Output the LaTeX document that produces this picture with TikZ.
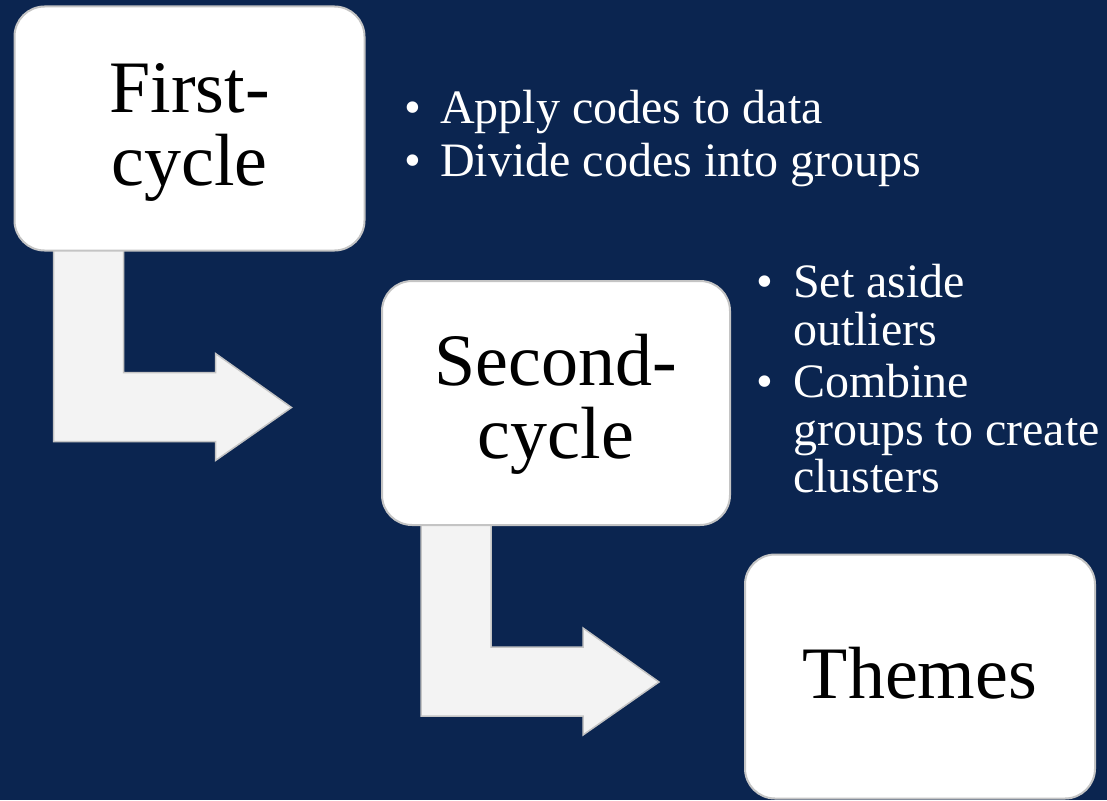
\documentclass[tikz,border=0pt]{standalone}
\usepackage{fontspec}
\setmainfont{Liberation Serif}
\usetikzlibrary{backgrounds,calc}
\definecolor{navy}{HTML}{0B2550}
\definecolor{boxline}{HTML}{C4C4C4}
\definecolor{arrowfill}{HTML}{F3F3F3}
\tikzset{
  stagebox/.style={draw=boxline, line width=2pt, fill=white, rounded corners=30pt,
    minimum width=350pt, minimum height=244pt, inner sep=0pt},
  stagetext/.style={align=center, text=black, font=\fontsize{74}{73}\selectfont, inner sep=0pt},
  bullettext/.style={anchor=base west, text=white, font=\fontsize{48}{50}\selectfont, inner sep=0pt},
  bentarrow/.pic={
    \filldraw[fill=arrowfill, draw=boxline, line width=1.5pt, line join=miter]
      (40,-6) -- (110,-6) -- (110,121) -- (202,121) -- (202,102) -- (278,156)
      -- (202,209) -- (202,190) -- (40,190) -- cycle;
  }
}
\begin{document}
\begin{tikzpicture}[x=1pt,y=-1pt]
\useasboundingbox (0,0) rectangle (1107,800);
% boxes
\node[stagebox] (b1) at (189.5,128.5) {};
\node[stagebox, minimum width=348pt] (b2) at (556,403) {};
\node[stagebox] (b3) at (920,676.5) {};
\node[stagetext, yshift=-3.5pt] (t1) at (b1.center) {First-\\cycle};
\node[stagetext, yshift=-1pt] (t2) at (b2.center) {Second-\\cycle};
\node[stagetext, yshift=3.5pt] (t3) at (b3.center) {Themes};
% background and arrows
\begin{pgfonlayer}{background}
  \fill[navy] (0,0) rectangle (1107,800);
  \pic at (b1.south west) {bentarrow};
  \pic at (b2.south west) {bentarrow};
\end{pgfonlayer}
% bullet lists
\node[bullettext] (p1) at (404,123) {\textbullet};
\node[bullettext] (l1) at (440,123) {Apply codes to data};
\node[bullettext] (p2) at (404,176) {\textbullet};
\node[bullettext] (l2) at (440,176) {Divide codes into groups};
\node[bullettext] (p3) at (756,297) {\textbullet};
\node[bullettext] (l3) at (793,297) {Set aside};
\node[bullettext] (l4) at (793,345) {outliers};
\node[bullettext] (p4) at (756,397) {\textbullet};
\node[bullettext] (l5) at (793,397) {Combine};
\node[bullettext] (l6) at (793,445) {groups to create};
\node[bullettext] (l7) at (793,492) {clusters};
\end{tikzpicture}
\end{document}
